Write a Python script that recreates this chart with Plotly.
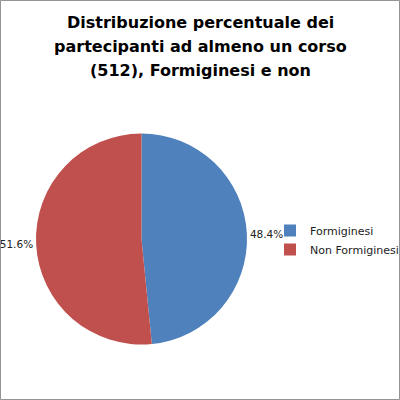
import plotly.graph_objects as go

# partecipanti ad almeno un corso (512 in totale)
categorie = ["Formiginesi", "Non Formiginesi"]
partecipanti = [248, 264]
colori = ["#4F81BD", "#C0504D"]

righe_titolo = ["Distribuzione percentuale dei",
                "partecipanti ad almeno un corso",
                "(512), Formiginesi e non"]

fig = go.Figure(go.Pie(
    labels=categorie,
    values=partecipanti,
    marker=dict(colors=colori, line=dict(color="white", width=0)),
    sort=False,
    direction="clockwise",
    rotation=0,
    textposition="outside",
    texttemplate="%{percent:.1%}",
    textfont=dict(family="DejaVu Sans", size=10.5, color="#222"),
    domain=dict(x=[0.09, 0.6175], y=[0.1375, 0.6675]),
    hoverinfo="label+percent",
))

# titolo su tre righe (interlinea come nell'originale)
for i, riga in enumerate(righe_titolo):
    fig.add_annotation(text="<b>" + riga + "</b>", xref="paper", yref="paper",
                       x=0.5, y=0.945 - i * 0.06, xanchor="center", yanchor="middle",
                       showarrow=False,
                       font=dict(family="DejaVu Sans", size=16, color="black"))

fig.update_layout(
    width=400, height=400,
    margin=dict(l=0, r=0, t=0, b=0, autoexpand=False),
    paper_bgcolor="white",
    legend=dict(x=0.675, y=0.4, xanchor="left", yanchor="middle",
                itemwidth=30, bgcolor="rgba(0,0,0,0)",
                font=dict(family="DejaVu Sans", size=11, color="#222")),
    shapes=[dict(type="rect", xref="paper", yref="paper", x0=0.001, y0=0.001,
                 x1=0.999, y1=0.999, line=dict(color="#888", width=1))],
)

fig.write_html("out.html", config={"displayModeBar": False},
               post_script="document.body.style.margin='0';")
